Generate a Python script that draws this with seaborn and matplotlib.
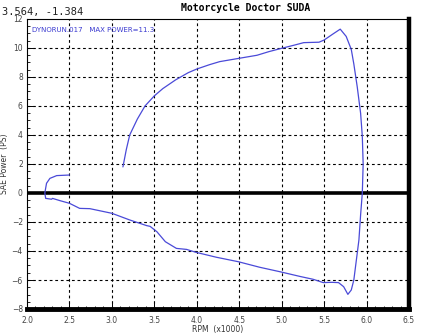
import numpy as np
import matplotlib
matplotlib.use("Agg")
import matplotlib.pyplot as plt
import seaborn as sns
import pandas as pd

sns.set_theme(style="white")
plt.rcParams['font.family'] = ['DejaVu Sans']

# dyno run, traced in recorded order (rpm x1000, SAE power PS)
rpm = [3.13, 3.17, 3.21, 3.30, 3.39, 3.50, 3.60, 3.75, 3.90, 4.00, 4.15, 4.27,
       4.50, 4.71, 4.85, 5.00, 5.15, 5.26, 5.44, 5.50, 5.60, 5.69, 5.76, 5.82,
       5.85, 5.89, 5.93, 5.95, 5.96, 5.95, 5.93, 5.91, 5.89, 5.85, 5.82, 5.78,
       5.73, 5.67, 5.59, 5.49, 5.37, 5.22, 4.98, 4.74, 4.49, 4.23, 3.99, 3.88,
       3.76, 3.63, 3.53, 3.45, 3.41, 3.21, 3.00, 2.74, 2.62, 2.50, 2.39, 2.30,
       2.29, 2.22, 2.21, 2.23, 2.27, 2.35, 2.50]
power = [1.8, 3.0, 4.0, 5.1, 6.0, 6.7, 7.2, 7.8, 8.3, 8.55, 8.85, 9.06,
         9.29, 9.5, 9.75, 9.98, 10.2, 10.37, 10.4, 10.55, 10.95, 11.3, 10.8, 9.9,
         8.9, 7.33, 5.5, 3.9, 2.0, 0.0, -1.5, -3.24, -4.16, -6.0, -6.69, -6.99,
         -6.46, -6.18, -6.16, -6.18, -5.95, -5.76, -5.43, -5.12, -4.74, -4.43, -4.09, -3.89,
         -3.82, -3.36, -2.67, -2.3, -2.25, -1.86, -1.4, -1.08, -1.06, -0.71, -0.53, -0.37,
         -0.43, -0.37, 0.0, 0.67, 1.01, 1.2, 1.24]

x_ticks = [2.0, 2.5, 3.0, 3.5, 4.0, 4.5, 5.0, 5.5, 6.0, 6.5]
y_ticks = [-8, -6, -4, -2, 0, 2, 4, 6, 8, 10, 12]
run_name = "DYNORUN.017"
max_power = 11.3

df = pd.DataFrame({"rpm": rpm, "power": power})

fig = plt.figure(figsize=(4.23, 3.36), dpi=100)
ax = fig.add_axes([27 / 423, 1 - 309 / 336, 382 / 423, 290 / 336])

sns.lineplot(data=df, x="rpm", y="power", sort=False, estimator=None,
             color="#4a4ad8", lw=0.9, ax=ax)

ax.set_xlim(2.0, 6.5)
ax.set_ylim(-8, 12)
ax.set_xticks(x_ticks)
ax.set_xticklabels([f"{t:.1f}" for t in x_ticks])
ax.set_yticks(y_ticks)
ax.set_xticks(np.arange(2.0, 6.51, 0.1), minor=True)
ax.set_yticks(np.arange(-8, 12.01, 0.5), minor=True)

# dashed grid, heavy zero line
for t in x_ticks[1:-1]:
    ax.axvline(t, color="black", lw=0.8, ls=(0, (2.5, 2.5)), zorder=1)
for t in y_ticks[1:-1]:
    if t != 0:
        ax.axhline(t, color="black", lw=0.8, ls=(0, (2.5, 2.5)), zorder=1)
ax.axhline(0, color="black", lw=2.6, zorder=1)

for side in ["left", "top"]:
    ax.spines[side].set_color("black")
    ax.spines[side].set_linewidth(0.8)
ax.spines["bottom"].set_color("black")
ax.spines["bottom"].set_linewidth(3.5)
ax.spines["right"].set_color("black")
ax.spines["right"].set_linewidth(3.2)

ax.tick_params(axis="both", which="major", direction="in", length=4, width=0.7,
               labelsize=5.5, colors="black", pad=3)
ax.tick_params(axis="both", which="minor", direction="in", length=2.5, width=0.6,
               colors="black")
ax.tick_params(axis="x", which="both", bottom=True, top=False, pad=5)
ax.tick_params(axis="y", which="both", left=True, right=False)
for lbl in ax.get_xticklabels() + ax.get_yticklabels():
    lbl.set_color("#444444")

ax.set_xlabel("RPM  (x1000)", fontsize=5.5, labelpad=0, color="#333333")
ax.set_ylabel("SAE Power  (PS)", fontsize=5.5, labelpad=2, color="#333333")

ax.text(0.012, 0.972, f"{run_name}   MAX POWER={max_power}", transform=ax.transAxes,
        fontsize=5, color="#3a3ad0", va="top", ha="left")

fig.text(0.58, 0.975, "Motorcycle Doctor SUDA", fontsize=7, fontweight="bold",
         family="DejaVu Sans Mono", ha="center", va="center", color="black")
fig.text(0.005, 0.965, "3.564, -1.384", fontsize=7.5, family="DejaVu Sans Mono",
         ha="left", va="center", color="#222222")

fig.savefig("out.png", dpi=100, facecolor="white")
